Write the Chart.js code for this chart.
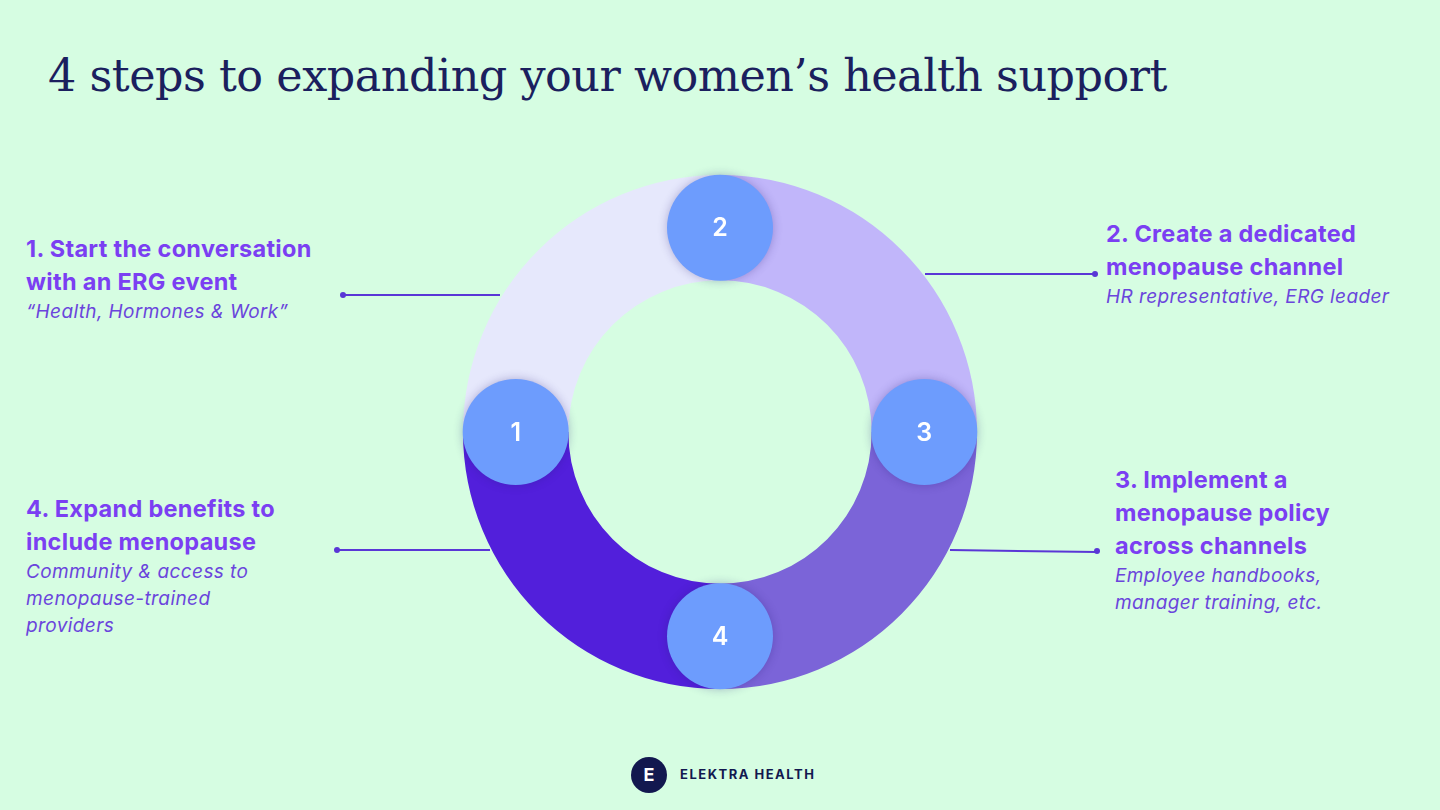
<!DOCTYPE html>
<html>
<head>
<meta charset="utf-8">
<script src="https://cdn.jsdelivr.net/npm/chart.js@4"></script>
<style>
  body { margin: 0; width: 1440px; height: 810px; background: #d6fde2; position: relative; overflow: hidden; font-family: Inter, sans-serif; }
  h1 { position: absolute; left: 48px; top: 50px; margin: 0; font-family: "DejaVu Serif", serif; font-weight: normal; font-size: 44.5px; color: #1b1f5e; letter-spacing: -0.5px; }
  .lbl { position: absolute; color: #7b3ff2; font-weight: 700; font-size: 23.5px; line-height: 33px; letter-spacing: 0.3px; }
  .sub { color: #6a45dc; font-style: italic; font-weight: 400; font-size: 19px; line-height: 27px; display: block; letter-spacing: 0.4px; }
  .line { position: absolute; height: 2px; background: #5a36d6; }
  .dot { position: absolute; width: 6px; height: 6px; border-radius: 3px; background: #5a36d6; }
  #wrap { position: absolute; left: 440px; top: 152px; width: 560px; height: 560px; }
  .logo { position: absolute; left: 631px; top: 757px; width: 36px; height: 36px; border-radius: 18px; background: #12184f; color: #fff; font-weight: 700; font-size: 18px; text-align: center; line-height: 36px; }
  .brand { position: absolute; left: 680px; top: 766px; color: #12184f; font-weight: 700; font-size: 13px; letter-spacing: 1.5px; }
</style>
</head>
<body>
<h1>4 steps to expanding your women’s health support</h1>

<div class="lbl" style="left:26px;top:232px;">1. Start the conversation<br>with an ERG event<span class="sub">“Health, Hormones &amp; Work”</span></div>
<div class="lbl" style="left:1106px;top:217px;">2. Create a dedicated<br>menopause channel<span class="sub">HR representative, ERG leader</span></div>
<div class="lbl" style="left:1115px;top:463px;">3. Implement a<br>menopause policy<br>across channels<span class="sub">Employee handbooks,<br>manager training, etc.</span></div>
<div class="lbl" style="left:26px;top:492px;">4. Expand benefits to<br>include menopause<span class="sub">Community &amp; access to<br>menopause-trained<br>providers</span></div>

<div class="dot" style="left:340px;top:292px;"></div><div class="line" style="left:343px;top:294px;width:157px;"></div>
<div class="line" style="left:925px;top:273px;width:170px;"></div><div class="dot" style="left:1092px;top:271px;"></div>
<div class="line" style="left:950px;top:549px;width:147px;transform:rotate(0.8deg);transform-origin:left;"></div><div class="dot" style="left:1094px;top:548px;"></div>
<div class="dot" style="left:334px;top:547px;"></div><div class="line" style="left:337px;top:549px;width:153px;"></div>

<div id="wrap"><canvas id="ring"></canvas></div>

<div class="logo">E</div>
<div class="brand">ELEKTRA HEALTH</div>

<script>
const stepLabels = ["1", "2", "3", "4"];
const stepValues = [1, 1, 1, 1];
const stepColors = ["#e6e8fc", "#c1b6fa", "#7b64d8", "#521fdb"];

const markers = {
  id: "markers",
  afterDatasetsDraw(chart) {
    const ctx = chart.ctx;
    chart.getDatasetMeta(0).data.forEach((arc, i) => {
      const r = (arc.innerRadius + arc.outerRadius) / 2;
      const x = arc.x + Math.cos(arc.startAngle) * r;
      const y = arc.y + Math.sin(arc.startAngle) * r;
      ctx.save();
      ctx.shadowColor = "rgba(40,30,120,0.3)";
      ctx.shadowBlur = 10;
      ctx.beginPath();
      ctx.arc(x, y, 53, 0, Math.PI * 2);
      ctx.fillStyle = "#6d9cfd";
      ctx.fill();
      ctx.restore();
      ctx.fillStyle = "#fff";
      ctx.font = "600 25px Inter";
      ctx.textAlign = "center";
      ctx.textBaseline = "middle";
      ctx.fillText(stepLabels[i], x, y + 1);
    });
  }
};

new Chart(document.getElementById("ring"), {
  type: "doughnut",
  data: {
    labels: stepLabels,
    datasets: [{ data: stepValues, backgroundColor: stepColors, borderWidth: 0 }]
  },
  options: {
    responsive: true,
    maintainAspectRatio: false,
    animation: false,
    rotation: -90,
    cutout: "59%",
    layout: { padding: 23 },
    plugins: { legend: { display: false }, tooltip: { enabled: false } }
  },
  plugins: [markers]
});
</script>
</body>
</html>
